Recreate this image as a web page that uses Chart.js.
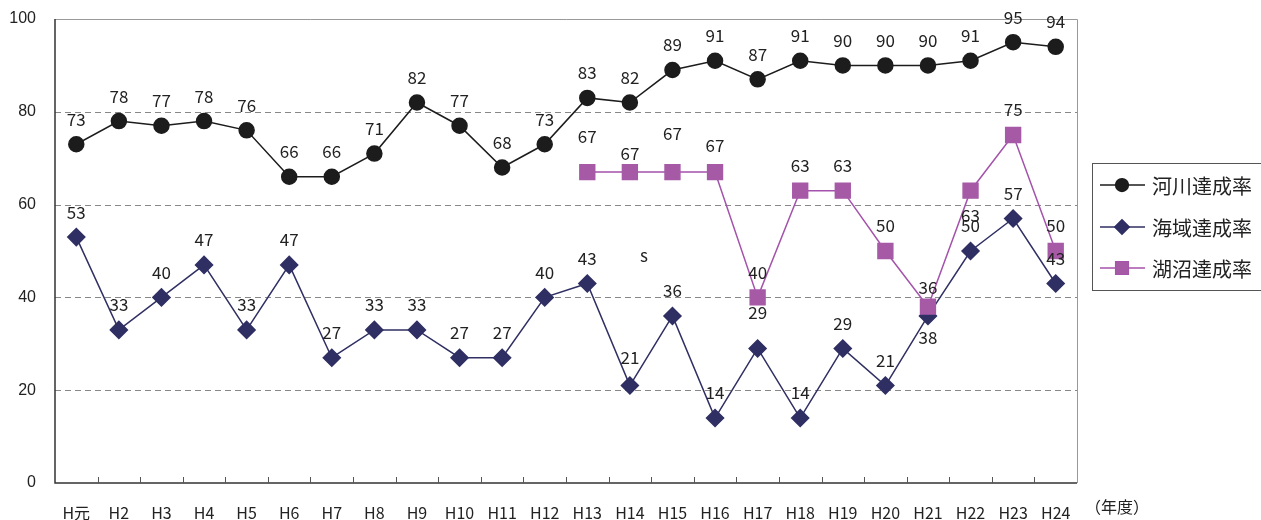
<!DOCTYPE html>
<html>
<head>
<meta charset="utf-8">
<script src="https://cdn.jsdelivr.net/npm/chart.js@4"></script>
<style>
  body { margin: 0; background: #fff; }
  canvas { display: block; }
</style>
</head>
<body>
<canvas id="chart" width="1261" height="520"></canvas>
<script>
// 年度
const years = ['H元', 'H2', 'H3', 'H4', 'H5', 'H6', 'H7', 'H8', 'H9', 'H10', 'H11', 'H12',
  'H13', 'H14', 'H15', 'H16', 'H17', 'H18', 'H19', 'H20', 'H21', 'H22', 'H23', 'H24'];

// 達成率 (%)
const riverRate = [73, 78, 77, 78, 76, 66, 66, 71, 82, 77, 68, 73, 83, 82, 89, 91, 87, 91, 90, 90, 90, 91, 95, 94];
const seaRate = [53, 33, 40, 47, 33, 47, 27, 33, 33, 27, 27, 40, 43, 21, 36, 14, 29, 14, 29, 21, 36, 50, 57, 43];
const lakeRate = [null, null, null, null, null, null, null, null, null, null, null, null,
  67, 67, 67, 67, 40, 63, 63, 50, 38, 63, 75, 50];

const yTicks = [0, 20, 40, 60, 80, 100];

const LABEL_FONT = '17px "Liberation Sans Narrow", "Noto Sans CJK JP", sans-serif';
const CJK_FONT = '"Noto Sans CJK JP", sans-serif';

// label nudges (index -> dy from point), default is above the point
const labelShift = {
  0: {},
  1: { 13: -28, 16: -36, 20: -28 },
  2: { 12: -36, 13: -19, 14: -39, 16: -25, 15: -27, 20: 31, 21: 25 }
};

const framePlugin = {
  id: 'frame',
  beforeDatasetsDraw(chart) {
    const { ctx, chartArea: a, scales: { x, y } } = chart;
    ctx.save();
    // dashed grid
    ctx.strokeStyle = '#888';
    ctx.lineWidth = 1;
    ctx.setLineDash([6, 4]);
    y.ticks.forEach(t => {
      if (t.value === 0 || t.value === 100) return;
      const py = Math.round(y.getPixelForValue(t.value)) + 0.5;
      ctx.beginPath();
      ctx.moveTo(a.left, py);
      ctx.lineTo(a.right, py);
      ctx.stroke();
    });
    ctx.setLineDash([]);
    // top & right border
    ctx.strokeStyle = '#999';
    ctx.beginPath();
    ctx.moveTo(a.left, a.top + 0.5);
    ctx.lineTo(a.right + 0.5, a.top + 0.5);
    ctx.lineTo(a.right + 0.5, a.bottom);
    ctx.stroke();
    // axes
    ctx.strokeStyle = '#333';
    ctx.lineWidth = 1.5;
    ctx.beginPath();
    ctx.moveTo(a.left, a.top);
    ctx.lineTo(a.left, a.bottom);
    ctx.lineTo(a.right, a.bottom);
    ctx.stroke();
    // category tick marks (between categories, pointing up)
    ctx.lineWidth = 1;
    ctx.strokeStyle = '#555';
    const half = (x.getPixelForValue(1) - x.getPixelForValue(0)) / 2;
    for (let i = 1; i < years.length; i++) {
      const px = Math.round(x.getPixelForValue(i) - half) + 0.5;
      ctx.beginPath();
      ctx.moveTo(px, a.bottom);
      ctx.lineTo(px, a.bottom - 6);
      ctx.stroke();
    }
    ctx.restore();
  },
  afterDatasetsDraw(chart) {
    const { ctx, chartArea: a, scales: { x, y } } = chart;
    ctx.save();
    ctx.font = LABEL_FONT;
    ctx.fillStyle = '#222';
    ctx.textAlign = 'center';
    ctx.textBaseline = 'middle';
    chart.data.datasets.forEach((ds, di) => {
      const meta = chart.getDatasetMeta(di);
      meta.data.forEach((pt, i) => {
        const v = ds.data[i];
        if (v === null || v === undefined) return;
        const dy = labelShift[di][i] !== undefined ? labelShift[di][i] : -25;
        ctx.fillText(String(v), pt.x, pt.y + dy);
      });
    });
    // stray character in the source figure
    ctx.fillText('s', x.getPixelForValue(13) + 14, y.getPixelForValue(49));
    // unit label
    ctx.font = '16px ' + CJK_FONT;
    ctx.fillText('（年度）', a.right + 40, a.bottom + 24);

    // legend
    const lx = 1092, ly = 163;
    ctx.strokeStyle = '#555';
    ctx.lineWidth = 1;
    ctx.strokeRect(lx + 0.5, ly + 0.5, 200, 127);
    const rows = [185, 227, 268];
    ctx.textAlign = 'left';
    ctx.font = '20px ' + CJK_FONT;
    chart.data.datasets.forEach((ds, di) => {
      const ry = rows[di];
      ctx.strokeStyle = ds.borderColor;
      ctx.lineWidth = 1.5;
      ctx.beginPath();
      ctx.moveTo(1100, ry);
      ctx.lineTo(1145, ry);
      ctx.stroke();
      Chart.helpers.drawPoint(ctx, {
        pointStyle: ds.pointStyle,
        radius: ds.pointRadius * 0.85,
        borderWidth: 1
      }, 1122, ry);
      ctx.fillStyle = ds.pointBackgroundColor;
      ctx.strokeStyle = ds.pointBorderColor;
      ctx.fill();
      ctx.fillStyle = '#222';
      ctx.fillText(ds.label, 1152, ry + 1);
    });
    ctx.restore();
  }
};

new Chart(document.getElementById('chart'), {
  type: 'line',
  data: {
    labels: years,
    datasets: [
      {
        label: '河川達成率',
        data: riverRate,
        borderColor: '#1c1c1c',
        backgroundColor: '#1c1c1c',
        pointBackgroundColor: '#1c1c1c',
        pointBorderColor: '#1c1c1c',
        pointStyle: 'circle',
        pointRadius: 7.5,
        borderWidth: 1.5,
        order: 1
      },
      {
        label: '海域達成率',
        data: seaRate,
        borderColor: '#2f2f63',
        backgroundColor: '#2f2f63',
        pointBackgroundColor: '#2f2f63',
        pointBorderColor: '#2f2f63',
        pointStyle: 'rectRot',
        pointRadius: 8.5,
        borderWidth: 1.5,
        order: 2
      },
      {
        label: '湖沼達成率',
        data: lakeRate,
        borderColor: '#a452ab',
        backgroundColor: '#a65aa6',
        pointBackgroundColor: '#a65aa6',
        pointBorderColor: '#a65aa6',
        pointStyle: 'rect',
        pointRadius: 10.5,
        borderWidth: 1.5,
        order: 0
      }
    ]
  },
  options: {
    responsive: false,
    devicePixelRatio: 1,
    animation: false,
    layout: { padding: { top: 19, right: 184, left: 0, bottom: 0 } },
    plugins: {
      legend: { display: false },
      tooltip: { enabled: false }
    },
    scales: {
      x: {
        offset: true,
        grid: { display: false, drawTicks: false },
        border: { display: false },
        ticks: {
          color: '#222',
          padding: 20,
          maxRotation: 0,
          autoSkip: false,
          font: { family: '"Liberation Sans Narrow", "Noto Sans CJK JP", sans-serif', size: 16 }
        },
        afterFit(s) { s.height = 37; }
      },
      y: {
        min: 0,
        max: 100,
        afterBuildTicks(s) { s.ticks = yTicks.map(v => ({ value: v })); },
        grid: { display: false, drawTicks: false },
        border: { display: false },
        ticks: {
          color: '#222',
          padding: 19,
          font: { family: '"Liberation Sans Narrow", sans-serif', size: 16 }
        },
        afterFit(s) {
          s.width = 55;
          s.paddingTop = 0;
          s.paddingBottom = 0;
        }
      }
    }
  },
  plugins: [framePlugin]
});
</script>
</body>
</html>
